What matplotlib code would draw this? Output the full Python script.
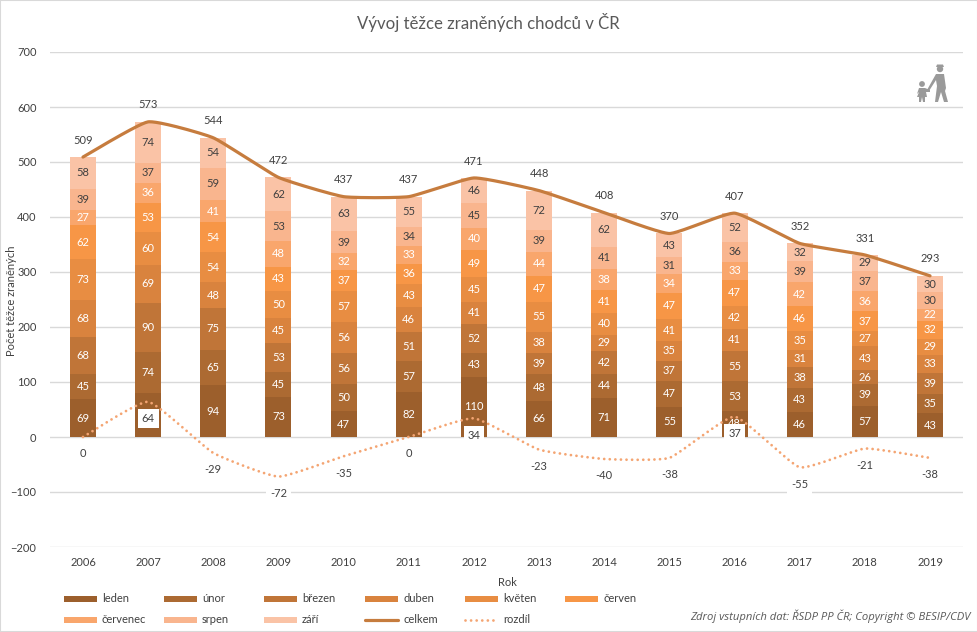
import numpy as np
import matplotlib
matplotlib.use("Agg")
import matplotlib.pyplot as plt
from matplotlib.patches import Circle, Polygon, Rectangle

# ==== Data ====
YEARS = [2006, 2007, 2008, 2009, 2010, 2011, 2012, 2013, 2014, 2015, 2016, 2017, 2018, 2019]
LEDEN = [69, 80, 94, 73, 47, 82, 110, 66, 71, 55, 48, 46, 57, 43]
UNOR = [45, 74, 65, 45, 50, 57, 43, 48, 44, 47, 53, 43, 39, 35]
BREZEN = [68, 90, 75, 53, 56, 51, 52, 39, 42, 37, 55, 38, 26, 39]
DUBEN = [68, 69, 48, 45, 56, 46, 41, 38, 29, 35, 41, 31, 43, 33]
KVETEN = [73, 60, 54, 50, 57, 43, 45, 55, 40, 41, 42, 35, 27, 29]
CERVEN = [62, 53, 54, 43, 37, 36, 49, 47, 41, 47, 47, 46, 37, 32]
CERVENEC = [27, 36, 41, 48, 32, 33, 40, 44, 38, 34, 33, 42, 36, 22]
SRPEN = [39, 37, 59, 53, 39, 34, 45, 39, 41, 31, 36, 39, 37, 30]
ZARI = [58, 74, 54, 62, 63, 55, 46, 72, 62, 43, 52, 32, 29, 30]
CELKEM = [509, 573, 544, 472, 437, 437, 471, 448, 408, 370, 407, 352, 331, 293]
ROZDIL = [0, 64, -29, -72, -35, 0, 34, -23, -40, -38, 37, -55, -21, -38]

MONTHS = ["leden", "únor", "březen", "duben", "květen", "červen", "červenec", "srpen", "září"]
MONTH_VALUES = [LEDEN, UNOR, BREZEN, DUBEN, KVETEN, CERVEN, CERVENEC, SRPEN, ZARI]
MONTH_COLORS = ["#9c5f2c", "#ac6a32", "#c07538", "#d9833e", "#e88d42", "#f79646",
                "#f9a66c", "#f9b58e", "#fac3a6"]
LABEL_COLORS = ["white"] * 7 + ["#404040"] * 2

LINE_COLOR = "#c67c3e"
DOT_COLOR = "#f4a573"
GRID_COLOR = "#d9d9d9"
TEXT_COLOR = "#595959"
DARK_TEXT = "#404040"

plt.rcParams["font.family"] = ["Lato", "DejaVu Sans"]


# ==== Function: smooth_curve ====
def smooth_curve(x, y, steps=30, tension=1 / 14):
    """Line with slightly rounded corners through the points (Bezier segments)."""
    x = np.asarray(x, dtype=float)
    y = np.asarray(y, dtype=float)
    px = np.concatenate(([x[0]], x, [x[-1]]))
    py = np.concatenate(([y[0]], y, [y[-1]]))
    out_x, out_y = [], []
    t = np.linspace(0, 1, steps)
    for i in range(1, len(px) - 2):
        c1x = px[i] + (px[i + 1] - px[i - 1]) * tension
        c1y = py[i] + (py[i + 1] - py[i - 1]) * tension
        c2x = px[i + 1] - (px[i + 2] - px[i]) * tension
        c2y = py[i + 1] - (py[i + 2] - py[i]) * tension
        out_x.extend((1 - t) ** 3 * px[i] + 3 * (1 - t) ** 2 * t * c1x + 3 * (1 - t) * t ** 2 * c2x + t ** 3 * px[i + 1])
        out_y.extend((1 - t) ** 3 * py[i] + 3 * (1 - t) ** 2 * t * c1y + 3 * (1 - t) * t ** 2 * c2y + t ** 3 * py[i + 1])
    return out_x, out_y


# ==== Figure and axes ====
W, H = 978, 632
fig = plt.figure(figsize=(W / 100, H / 100), dpi=100, facecolor="white")
fig.add_artist(Rectangle((0, 0), 1, 1, transform=fig.transFigure, fill=False, edgecolor=GRID_COLOR, lw=1.5))
ax = fig.add_axes([50.4 / W, 1 - 547 / H, (962.6 - 50.4) / W, (547 - 52) / H])
ax.set_xlim(-0.5, 13.5)
ax.set_ylim(-200, 700)
ax.set_yticks(range(-200, 701, 100))
x_pos = np.arange(len(YEARS))
ax.set_xticks(x_pos)
ax.set_xticklabels(YEARS)
ax.tick_params(length=0, labelsize=8, labelcolor=DARK_TEXT)
ax.tick_params(axis="x", pad=7.5)
ax.tick_params(axis="y", pad=10)
for spine in ax.spines.values():
    spine.set_visible(False)
ax.grid(axis="y", color=GRID_COLOR, lw=1)
ax.set_axisbelow(True)

# ==== Stacked bars with labels ====
bottom = np.zeros(len(YEARS))
for name, values, color, label_color in zip(MONTHS, MONTH_VALUES, MONTH_COLORS, LABEL_COLORS):
    ax.bar(x_pos, values, 0.4, bottom=bottom, color=color, label=name, zorder=2)
    for xp, b, v in zip(x_pos, bottom, values):
        # leden 2007 is fully covered by the white "64" box in the original
        if name == "leden" and YEARS[xp] == 2007:
            continue
        ax.text(xp, b + v / 2, str(v), ha="center", va="center", fontsize=8, color=label_color, zorder=3)
    bottom += np.array(values)

# ==== Lines ====
sx, sy = smooth_curve(x_pos, CELKEM)
ax.plot(sx, sy, color=LINE_COLOR, lw=2.3, label="celkem", zorder=6, solid_capstyle="round")
dx, dy = smooth_curve(x_pos, ROZDIL)
ax.plot(dx, dy, color=DOT_COLOR, lw=2.0, ls=(0, (0.01, 2.0)), dash_capstyle="round", label="rozdíl", zorder=6)

for xp, v in zip(x_pos, CELKEM):
    ax.annotate(str(v), (xp, v), xytext=(0, 12.2), textcoords="offset points", ha="center", va="center",
                fontsize=8, color=DARK_TEXT, zorder=7)
for xp, v in zip(x_pos, ROZDIL):
    ax.annotate(str(v), (xp, v), xytext=(0, -12.2), textcoords="offset points", ha="center", va="center",
                fontsize=8, color=DARK_TEXT, zorder=5,
                bbox=dict(boxstyle="square,pad=0.35", facecolor="white", edgecolor="none"))

# ==== Titles ====
fig.text(488 / W, 1 - 22 / H, "Vývoj těžce zraněných chodců v ČR", ha="center", va="center",
         fontsize=12.1, color=TEXT_COLOR)
fig.text(12 / W, 1 - 301 / H, "Počet těžce zraněných", rotation=90, ha="center", va="center",
         fontsize=8, color=DARK_TEXT)
fig.text(507 / W, 1 - 583 / H, "Rok", ha="center", va="center", fontsize=8, color=DARK_TEXT)
fig.text(970 / W, 1 - 616 / H, "Zdroj vstupních dat: ŘSDP PP ČR; Copyright © BESIP/CDV", ha="right", va="center",
         fontsize=8.1, style="italic", color=TEXT_COLOR, family=["Open Sans", "DejaVu Sans"])

# ==== Overlay in pixel coordinates: legend and icon ====
overlay = fig.add_axes([0, 0, 1, 1], zorder=10)
overlay.set_xlim(0, W)
overlay.set_ylim(H, 0)
overlay.axis("off")

LEGEND_NAMES = MONTHS + ["celkem", "rozdíl"]
LEGEND_COLS = [64, 164, 264, 365, 465, 565]
LEGEND_ROWS = [598.5, 619.5]
for i, name in enumerate(LEGEND_NAMES):
    lx = LEGEND_COLS[i % 6]
    ly = LEGEND_ROWS[i // 6]
    if i < 9:
        overlay.add_patch(Rectangle((lx, ly - 3), 33, 6.5, facecolor=MONTH_COLORS[i], edgecolor="none"))
    elif name == "celkem":
        overlay.plot([lx, lx + 33], [ly, ly], color=LINE_COLOR, lw=2.3, solid_capstyle="round")
    else:
        overlay.plot([lx, lx + 33], [ly, ly], color=DOT_COLOR, lw=2.0, ls=(0, (0.01, 2.0)), dash_capstyle="round")
    overlay.text(lx + 38, ly, name, ha="left", va="center", fontsize=8, color=DARK_TEXT)

ICON = "#9a9a9a"
overlay.add_patch(Circle((940, 69), 3.2, color=ICON, lw=0))
overlay.add_patch(Polygon([(936, 67), (937, 64.5), (943, 64.5), (944, 67)], closed=True, color=ICON, lw=0))
overlay.add_patch(Polygon([(936, 74), (944, 74), (946, 88), (945, 91), (948, 102), (944, 102), (941, 92),
                           (938, 102), (935, 102), (937, 86), (936, 80), (929, 91), (927, 90)],
                          closed=True, color=ICON, lw=0))
overlay.add_patch(Circle((922, 84), 2.9, color=ICON, lw=0))
overlay.add_patch(Polygon([(919, 88), (925, 88), (930, 90), (930, 92), (926, 92), (927, 97), (925, 97),
                           (925, 102), (923, 102), (922, 97), (921, 102), (919, 102), (919, 97),
                           (917, 97), (919, 92), (917, 94)],
                          closed=True, color=ICON, lw=0))

fig.savefig("out.png", dpi=100)
plt.close(fig)
